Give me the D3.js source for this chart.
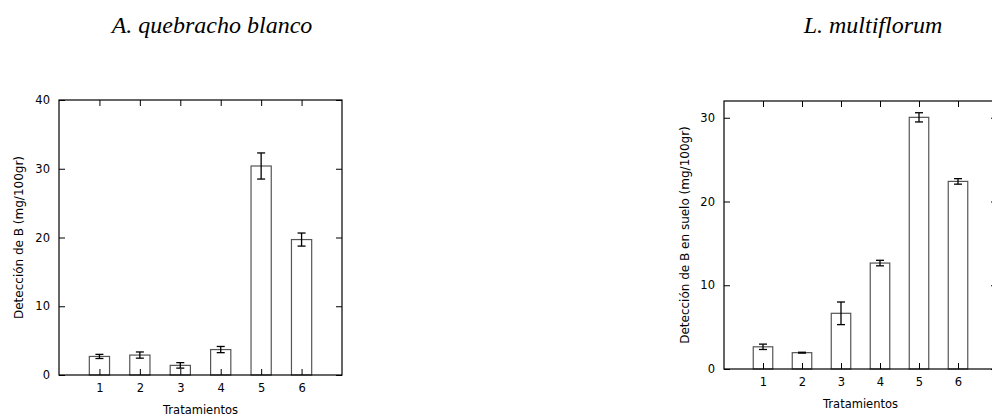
<!DOCTYPE html>
<html>
<head>
<meta charset="utf-8">
<script src="https://cdn.jsdelivr.net/npm/d3@7"></script>
<style>
  body { margin: 0; background: #fff; }
  svg { display: block; }
  .tick text { font-family: "DejaVu Sans", sans-serif; font-size: 11.5px; fill: #000; }
  .tick line { stroke: #000; }
</style>
</head>
<body>
<div id="chart"></div>
<script>
// data
var treatments = [1, 2, 3, 4, 5, 6];
var quebrachoMeans = [2.7, 2.9, 1.4, 3.7, 30.4, 19.7];
var quebrachoErr = [0.3, 0.45, 0.4, 0.45, 1.9, 0.95];
var multiflorumMeans = [2.65, 1.95, 6.65, 12.65, 30.05, 22.4];
var multiflorumErr = [0.32, 0.05, 1.35, 0.33, 0.55, 0.33];
var quebrachoYTicks = [0, 10, 20, 30, 40];
var multiflorumYTicks = [0, 10, 20, 30];

var svg = d3.select("#chart")
    .append("svg")
    .attr("width", 992)
    .attr("height", 417);

function draw_panel(cfg) {
    var x = d3.scaleLinear().domain([0, 7]).range([cfg.left, cfg.right]);
    var y = d3.scaleLinear().domain([0, cfg.ymax]).range([cfg.bottom, cfg.top]);
    var g = svg.append("g");

    var rows = treatments.map(function(t, i) {
        return {t: t, v: cfg.means[i], e: cfg.err[i]};
    });

    // bars
    g.selectAll("rect.bar")
        .data(rows)
        .enter().append("rect")
        .attr("class", "bar")
        .attr("x", function(d) { return x(d.t - 0.25); })
        .attr("y", function(d) { return y(d.v); })
        .attr("width", function(d) { return x(d.t + 0.25) - x(d.t - 0.25); })
        .attr("height", function(d) { return y(0) - y(d.v); })
        .attr("fill", "#fff")
        .attr("stroke", "#555")
        .attr("stroke-width", 1.2);

    // error bars
    var eb = g.selectAll("g.err")
        .data(rows)
        .enter().append("g")
        .attr("class", "err")
        .attr("stroke", "#000")
        .attr("stroke-width", 1.3);
    eb.append("line")
        .attr("x1", function(d) { return x(d.t); })
        .attr("x2", function(d) { return x(d.t); })
        .attr("y1", function(d) { return y(d.v + d.e); })
        .attr("y2", function(d) { return y(d.v - d.e); });
    eb.selectAll("line.cap")
        .data(function(d) { return [[d.t, d.v + d.e], [d.t, d.v - d.e]]; })
        .enter().append("line")
        .attr("class", "cap")
        .attr("x1", function(d) { return x(d[0]) - 4; })
        .attr("x2", function(d) { return x(d[0]) + 4; })
        .attr("y1", function(d) { return y(d[1]); })
        .attr("y2", function(d) { return y(d[1]); });

    // axes, ticks pointing inwards
    g.append("g")
        .attr("transform", "translate(0," + cfg.bottom + ")")
        .call(d3.axisBottom(x).tickValues(treatments).tickFormat(d3.format("d"))
            .tickSizeInner(-6).tickSizeOuter(0).tickPadding(9))
        .call(function(a) { a.select(".domain").remove(); });
    g.append("g")
        .attr("transform", "translate(0," + cfg.top + ")")
        .call(d3.axisTop(x).tickValues(treatments).tickSizeInner(-6).tickSizeOuter(0).tickFormat(""))
        .call(function(a) { a.select(".domain").remove(); });
    g.append("g")
        .attr("transform", "translate(" + cfg.left + ",0)")
        .call(d3.axisLeft(y).tickValues(cfg.yticks).tickFormat(d3.format("d"))
            .tickSizeInner(-6).tickSizeOuter(0).tickPadding(9))
        .call(function(a) { a.select(".domain").remove(); });
    g.append("g")
        .attr("transform", "translate(" + cfg.right + ",0)")
        .call(d3.axisRight(y).tickValues(cfg.yticks).tickSizeInner(-6).tickSizeOuter(0).tickFormat(""))
        .call(function(a) { a.select(".domain").remove(); });

    // frame
    g.append("rect")
        .attr("x", cfg.left)
        .attr("y", cfg.top)
        .attr("width", cfg.right - cfg.left)
        .attr("height", cfg.bottom - cfg.top)
        .attr("fill", "none")
        .attr("stroke", "#000")
        .attr("stroke-width", 1.2);

    // labels
    g.append("text")
        .attr("x", (cfg.left + cfg.right) / 2)
        .attr("y", cfg.bottom + 39)
        .attr("text-anchor", "middle")
        .style("font-family", "DejaVu Sans, sans-serif")
        .style("font-size", "11.5px")
        .text("Tratamientos");
    g.append("text")
        .attr("transform", "translate(" + cfg.ylabelX + "," + (cfg.top + cfg.bottom) / 2 + ") rotate(-90)")
        .attr("text-anchor", "middle")
        .style("font-family", "DejaVu Sans, sans-serif")
        .style("font-size", "12px")
        .text(cfg.ylabel);
    svg.append("text")
        .attr("x", cfg.titleX)
        .attr("y", 33)
        .attr("text-anchor", "middle")
        .style("font-family", "Liberation Serif, serif")
        .style("font-style", "italic")
        .style("font-size", "24px")
        .text(cfg.title);
}

draw_panel({
    left: 59, right: 342, top: 100, bottom: 375, ymax: 40,
    means: quebrachoMeans, err: quebrachoErr, yticks: quebrachoYTicks,
    ylabel: "Detección de B (mg/100gr)", ylabelX: 23,
    title: "A. quebracho blanco", titleX: 212
});

draw_panel({
    left: 724, right: 997, top: 101, bottom: 369, ymax: 32,
    means: multiflorumMeans, err: multiflorumErr, yticks: multiflorumYTicks,
    ylabel: "Detección de B en suelo (mg/100gr)", ylabelX: 689,
    title: "L. multiflorum", titleX: 873
});
</script>
</body>
</html>
